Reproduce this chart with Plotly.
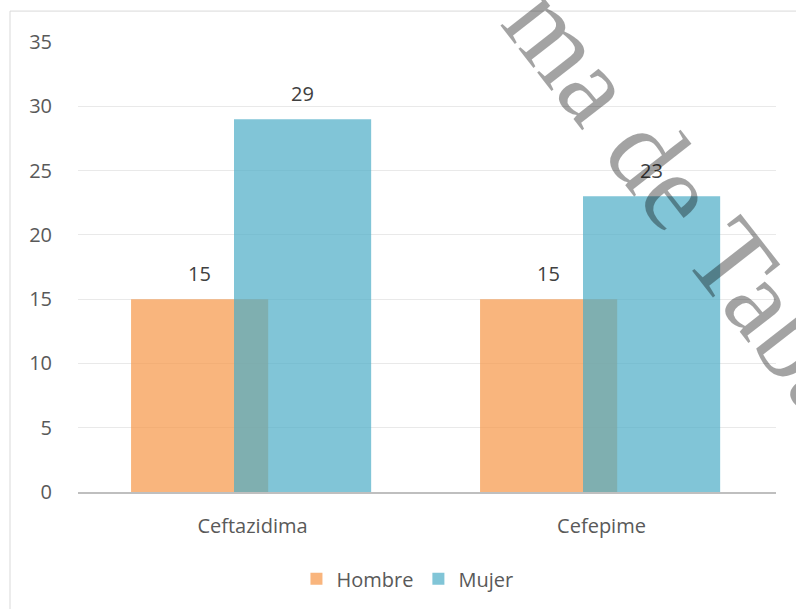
import plotly.graph_objects as go

# Data
categories = ["Ceftazidima", "Cefepime"]
hombre = [15, 15]
mujer = [29, 23]
series_names = ["Hombre", "Mujer"]
y_ticks = [0, 5, 10, 15, 20, 25, 30, 35]

# Bar geometry (category units) and styling
BAR_W = 0.393
OFFSETS = [-0.348, -0.053]
COLORS = ["rgba(247,150,70,0.7)", "rgba(75,172,198,0.7)"]
TEXT_FONT = "Open Sans, Noto Sans, sans-serif"

fig = go.Figure()
for name, vals, off, col in zip(series_names, [hombre, mujer], OFFSETS, COLORS):
    fig.add_trace(go.Bar(
        x=categories, y=vals, name=name,
        width=BAR_W, offset=off,
        marker=dict(color=col, line=dict(width=0)),
        hoverinfo="x+y+name",
    ))

# Value labels above each bar
annotations = []
for vals, off in zip([hombre, mujer], OFFSETS):
    for i, v in enumerate(vals):
        annotations.append(dict(
            x=i + off + BAR_W / 2, y=v, xref="x", yref="y",
            text=str(v), showarrow=False, yanchor="bottom", yshift=10,
            font=dict(family=TEXT_FONT, size=20, color="#404040"),
        ))

# Diagonal watermark
annotations.append(dict(
    x=0.938, y=0.514, xref="paper", yref="paper",
    text="ma de Tabasco", showarrow=False, textangle=52,
    xanchor="center", yanchor="middle",
    font=dict(family="Liberation Serif, Times New Roman, serif", size=112,
              color="rgba(0,0,0,0.36)"),
))

fig.update_layout(
    width=796, height=609,
    margin=dict(l=78, r=20, t=42, b=116),
    paper_bgcolor="white", plot_bgcolor="white",
    barmode="overlay",
    showlegend=True,
    legend=dict(
        orientation="h", x=0.472, y=-0.19, xanchor="center", yanchor="middle",
        font=dict(family=TEXT_FONT, size=20, color="#595959"),
        traceorder="normal",
    ),
    annotations=annotations,
    shapes=[dict(
        type="rect", xref="paper", yref="paper",
        x0=-0.0974, x1=1.2, y0=1.0687, y1=-0.4,
        line=dict(color="#d9d9d9", width=1), fillcolor="rgba(0,0,0,0)",
        layer="below",
    )],
)

fig.update_xaxes(
    type="category", showgrid=False, zeroline=False,
    showline=True, linecolor="#bfbfbf", linewidth=2,
    ticks="", ticklabelstandoff=15,
    tickfont=dict(family=TEXT_FONT, size=20, color="#595959"),
)
fig.update_yaxes(
    range=[0, 35], tickvals=y_ticks, showgrid=True, gridcolor="#e9e9e9", gridwidth=1,
    zeroline=False, showline=False, ticks="", ticklabelstandoff=25,
    tickfont=dict(family=TEXT_FONT, size=20, color="#595959"),
)

fig.write_html("out.html")
